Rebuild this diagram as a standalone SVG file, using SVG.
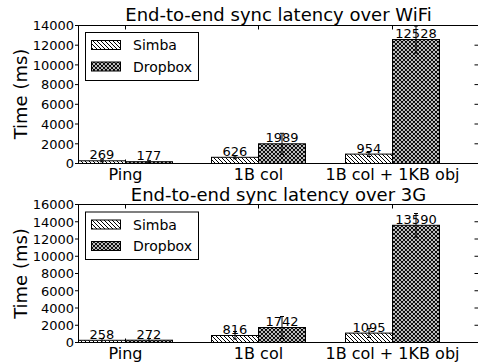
<svg xmlns="http://www.w3.org/2000/svg" width="478" height="364" viewBox="0 0 478 364">
<style>
text{font-family:"DejaVu Sans","Liberation Sans",sans-serif;fill:#000}
.t{font-size:18px;text-anchor:middle}
.yl{font-size:18px;text-anchor:middle}
.tk{font-size:13px;text-anchor:end}
.xl{font-size:16px;text-anchor:middle}
.bl{font-size:13px;text-anchor:middle}
.lg{font-size:14px}
.ax{fill:none;stroke:#000;stroke-width:1}
.tick{stroke:#000;stroke-width:1}
.s{fill:url(#hs);stroke:#000;stroke-width:1}
.d{fill:url(#hd);stroke:#000;stroke-width:1}
.eb{stroke:#000;stroke-width:1;fill:none}
.leg{fill:#fff;stroke:#000;stroke-width:1}
</style>
<defs>
<pattern id="hs" patternUnits="userSpaceOnUse" width="4" height="4">
<rect width="4" height="4" fill="#fff"/>
<path d="M-1,-1L5,5M-1,3L1,5M3,-1L5,1" stroke="#000" stroke-width="1"/>
</pattern>
<pattern id="hd" patternUnits="userSpaceOnUse" width="4" height="4">
<rect width="4" height="4" fill="#fff"/>
<path d="M-1,-1L5,5M-1,3L1,5M3,-1L5,1M-1,5L5,-1M-1,1L1,-1M3,5L5,3" stroke="#000" stroke-width="1.05"/>
</pattern>
</defs>
<rect width="478" height="364" fill="#fff"/>

<g id="wifi">
<text class="t" x="278.5" y="21">End-to-end sync latency over WiFi</text>
<text class="yl" transform="translate(27,94) rotate(-90)">Time (ms)</text>
<g id="wifi-bars">
<rect class="s" x="78.5" y="160.8" width="47" height="2.7"/>
<rect class="d" x="125.5" y="161.7" width="47" height="1.8"/>
<rect class="s" x="211.5" y="157.3" width="47" height="6.2"/>
<rect class="d" x="258.5" y="143.8" width="47" height="19.7"/>
<rect class="s" x="345.5" y="154.1" width="47" height="9.4"/>
<rect class="d" x="392.5" y="39.5" width="47" height="124"/>
</g>
<g id="wifi-err">
<path class="eb" d="M102,159.8V161.8M100,159.8H104M100,161.8H104"/>
<path class="eb" d="M149,160.7V162.7M147,160.7H151M147,162.7H151"/>
<path class="eb" d="M235,155.8V158.8M233,155.8H237M233,158.8H237"/>
<path class="eb" d="M282,133.3V154.3M280,133.3H284M280,154.3H284"/>
<path class="eb" d="M369,151.5V156.5M367,151.5H371M367,156.5H371"/>
<path class="eb" d="M416,26V53M414,26H418M414,53H418"/>
</g>
<g id="wifi-labels">
<text class="bl" x="102" y="159.3">269</text>
<text class="bl" x="149" y="160.2">177</text>
<text class="bl" x="235" y="155.8">626</text>
<text class="bl" x="282" y="142.3">1989</text>
<text class="bl" x="369" y="152.6">954</text>
<text class="bl" x="416" y="38">12528</text>
</g>
<g id="wifi-axes">
<rect class="ax" x="78.5" y="25.5" width="400" height="138"/>
<path class="tick" d="M75,163.5H78.5M75,143.8H78.5M75,124H78.5M75,104.3H78.5M75,84.6H78.5M75,64.9H78.5M75,45.2H78.5M75,25.5H78.5"/>
<path class="tick" d="M474.5,143.8H478.5M474.5,124H478.5M474.5,104.3H478.5M474.5,84.6H478.5M474.5,64.9H478.5M474.5,45.2H478.5"/>
<path class="tick" d="M125.5,25.5V29.5M258.5,25.5V29.5M392.5,25.5V29.5M125.5,163.5V159.5M258.5,163.5V159.5M392.5,163.5V159.5"/>
<text class="tk" x="74" y="168.2">0</text>
<text class="tk" x="74" y="148.5">2000</text>
<text class="tk" x="74" y="128.7">4000</text>
<text class="tk" x="74" y="109">6000</text>
<text class="tk" x="74" y="89.3">8000</text>
<text class="tk" x="74" y="69.6">10000</text>
<text class="tk" x="74" y="49.9">12000</text>
<text class="tk" x="74" y="30.2">14000</text>
<text class="xl" x="125.5" y="180">Ping</text>
<text class="xl" x="258.5" y="180">1B col</text>
<text class="xl" x="392.5" y="180">1B col + 1KB obj</text>
</g>
<g id="wifi-legend">
<rect class="leg" x="85.5" y="32.5" width="113" height="48"/>
<rect class="s" x="91.5" y="40.5" width="29" height="9"/>
<rect class="d" x="91.5" y="62" width="29" height="9"/>
<text class="lg" x="133" y="50.2">Simba</text>
<text class="lg" x="133" y="71.7">Dropbox</text>
</g>
</g>

<g id="g3">
<text class="t" x="278.5" y="200.5">End-to-end sync latency over 3G</text>
<text class="yl" transform="translate(27,273.5) rotate(-90)">Time (ms)</text>
<g id="g3-bars">
<rect class="s" x="78.5" y="340.3" width="47" height="2.2"/>
<rect class="d" x="125.5" y="340.2" width="47" height="2.3"/>
<rect class="s" x="211.5" y="335.5" width="47" height="7"/>
<rect class="d" x="258.5" y="327.5" width="47" height="15"/>
<rect class="s" x="345.5" y="333.1" width="47" height="9.4"/>
<rect class="d" x="392.5" y="225.3" width="47" height="117.2"/>
</g>
<g id="g3-err">
<path class="eb" d="M102,338.5V342M100,338.5H104"/>
<path class="eb" d="M149,338.5V342M147,338.5H151"/>
<path class="eb" d="M235,331.5V339M233,331.5H237M233,339H237"/>
<path class="eb" d="M282,316.5V338.5M280,316.5H284M280,338.5H284"/>
<path class="eb" d="M369,328.5V337.5M367,328.5H371M367,337.5H371"/>
<path class="eb" d="M416,213.5V237M414,213.5H418M414,237H418"/>
</g>
<g id="g3-labels">
<text class="bl" x="102" y="338.7">258</text>
<text class="bl" x="149" y="338.6">272</text>
<text class="bl" x="235" y="333.9">816</text>
<text class="bl" x="282" y="325.9">1742</text>
<text class="bl" x="369" y="331.6">1095</text>
<text class="bl" x="416" y="223.9">13590</text>
</g>
<g id="g3-axes">
<rect class="ax" x="78.5" y="204.5" width="400" height="138"/>
<path class="tick" d="M75,342.5H78.5M75,325.25H78.5M75,308H78.5M75,290.75H78.5M75,273.5H78.5M75,256.25H78.5M75,239H78.5M75,221.75H78.5M75,204.5H78.5"/>
<path class="tick" d="M474.5,325.25H478.5M474.5,308H478.5M474.5,290.75H478.5M474.5,273.5H478.5M474.5,256.25H478.5M474.5,239H478.5M474.5,221.75H478.5"/>
<path class="tick" d="M125.5,204.5V208.5M258.5,204.5V208.5M392.5,204.5V208.5M125.5,342.5V338.5M258.5,342.5V338.5M392.5,342.5V338.5"/>
<text class="tk" x="74" y="347.2">0</text>
<text class="tk" x="74" y="330">2000</text>
<text class="tk" x="74" y="312.7">4000</text>
<text class="tk" x="74" y="295.5">6000</text>
<text class="tk" x="74" y="278.2">8000</text>
<text class="tk" x="74" y="261">10000</text>
<text class="tk" x="74" y="243.7">12000</text>
<text class="tk" x="74" y="226.5">14000</text>
<text class="tk" x="74" y="209.2">16000</text>
<text class="xl" x="125.5" y="359">Ping</text>
<text class="xl" x="258.5" y="359">1B col</text>
<text class="xl" x="392.5" y="359">1B col + 1KB obj</text>
</g>
<g id="g3-legend">
<rect class="leg" x="85.5" y="212" width="113" height="47.5"/>
<rect class="s" x="91.5" y="220" width="29" height="9"/>
<rect class="d" x="91.5" y="241.5" width="29" height="9"/>
<text class="lg" x="133" y="229.7">Simba</text>
<text class="lg" x="133" y="251.2">Dropbox</text>
</g>
</g>
</svg>
